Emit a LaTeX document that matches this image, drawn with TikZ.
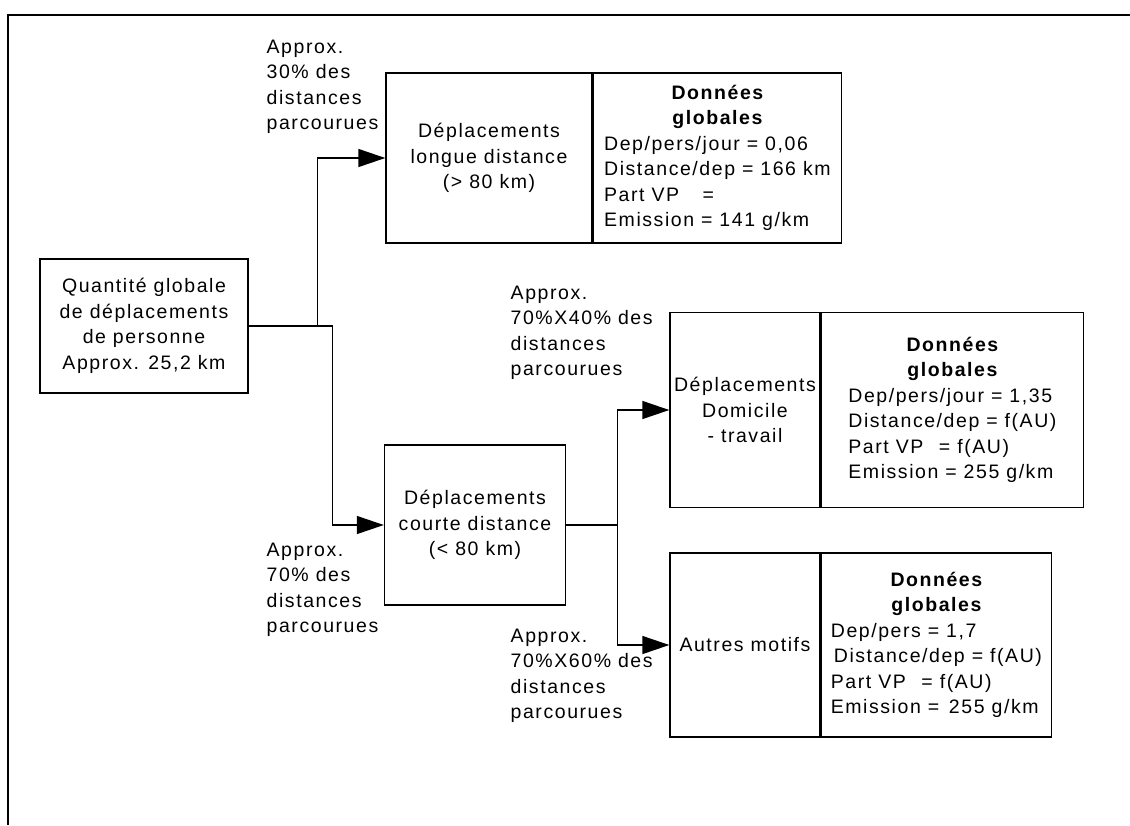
\documentclass[tikz,border=0pt]{standalone}
\usepackage{fontspec}
\setmainfont{Liberation Sans}[LetterSpace=8]
\usetikzlibrary{arrows.meta}
\begin{document}
\begin{tikzpicture}[x=1pt,y=-1pt,>={Triangle[length=27pt,width=18pt]},line width=1.4pt,
	font=\fontsize{19.5}{25.5}\selectfont,
	boite/.style={draw,rectangle,inner sep=0pt,align=center},
	etiq/.style={anchor=west,align=left,inner sep=0pt}]
	\useasboundingbox (0,0) rectangle (1130,825);
	\draw (1130,15) -- (8,15) -- (8,825);
	% boites
	\node[boite,minimum width=208,minimum height=134] (Q) at (144,326) {Quantité globale\\de déplacements\\de personne\\Approx. 25,2 km};
	\node[boite,minimum width=206,minimum height=170] (LD) at (489,158) {Déplacements\\longue distance\\(> 80 km)};
	\node[boite,minimum width=248,minimum height=170,anchor=west] (LDd) at (LD.east) {\begin{tabular}{@{}l@{}}
			\multicolumn{1}{@{}c@{}}{\bfseries Données}\\
			\multicolumn{1}{@{}c@{}}{\bfseries globales}\\
			Dep/pers/jour = 0,06\\
			Distance/dep = 166 km\\
			Part VP\hspace{1.2em}=\\
			Emission = 141 g/km
		\end{tabular}};
	\node[boite,minimum width=181,minimum height=160] (CD) at (475,525) {Déplacements\\courte distance\\(< 80 km)};
	\node[boite,minimum width=150,minimum height=195] (DT) at (745,410) {Déplacements\\Domicile\\- travail};
	\node[boite,minimum width=262,minimum height=195,anchor=west] (DTd) at (DT.east) {\begin{tabular}{@{}l@{}}
			\multicolumn{1}{@{}c@{}}{\bfseries Données}\\
			\multicolumn{1}{@{}c@{}}{\bfseries globales}\\
			Dep/pers/jour = 1,35\\
			Distance/dep = f(AU)\\
			Part VP\hspace{0.8em}= f(AU)\\
			Emission = 255 g/km
		\end{tabular}};
	\node[boite,minimum width=150,minimum height=184] (AM) at (745,645) {Autres motifs};
	\node[boite,minimum width=230,minimum height=184,anchor=west] (AMd) at (AM.east) {\begin{tabular}{@{}l@{}}
			\multicolumn{1}{@{}c@{}}{\bfseries Données}\\
			\multicolumn{1}{@{}c@{}}{\bfseries globales}\\
			Dep/pers = 1,7\\
			\hspace{3pt}Distance/dep = f(AU)\\
			Part VP\hspace{0.8em}= f(AU)\\
			Emission =\hspace{0.5em}255 g/km
		\end{tabular}};
	% etiquettes
	\node[etiq] (l30) at (266,87) {Approx.\\30\% des\\distances\\parcourues};
	\node[etiq] (l70) at (266,590) {Approx.\\70\% des\\distances\\parcourues};
	\node[etiq] (l40) at (510,333) {Approx.\\70\%X40\% des\\distances\\parcourues};
	\node[etiq] (l60) at (510,676) {Approx.\\70\%X60\% des\\distances\\parcourues};
	% fleches
	\draw[->] (Q.east) -- ++(84,0) |- (CD.west);
	\draw[->] ([xshift=69pt]Q.east) |- (LD.west);
	\draw[->] (CD.east) -- ++(51,0) |- (DT.west);
	\draw[->] ([xshift=51pt]CD.east) |- (AM.west);
\end{tikzpicture}
\end{document}
